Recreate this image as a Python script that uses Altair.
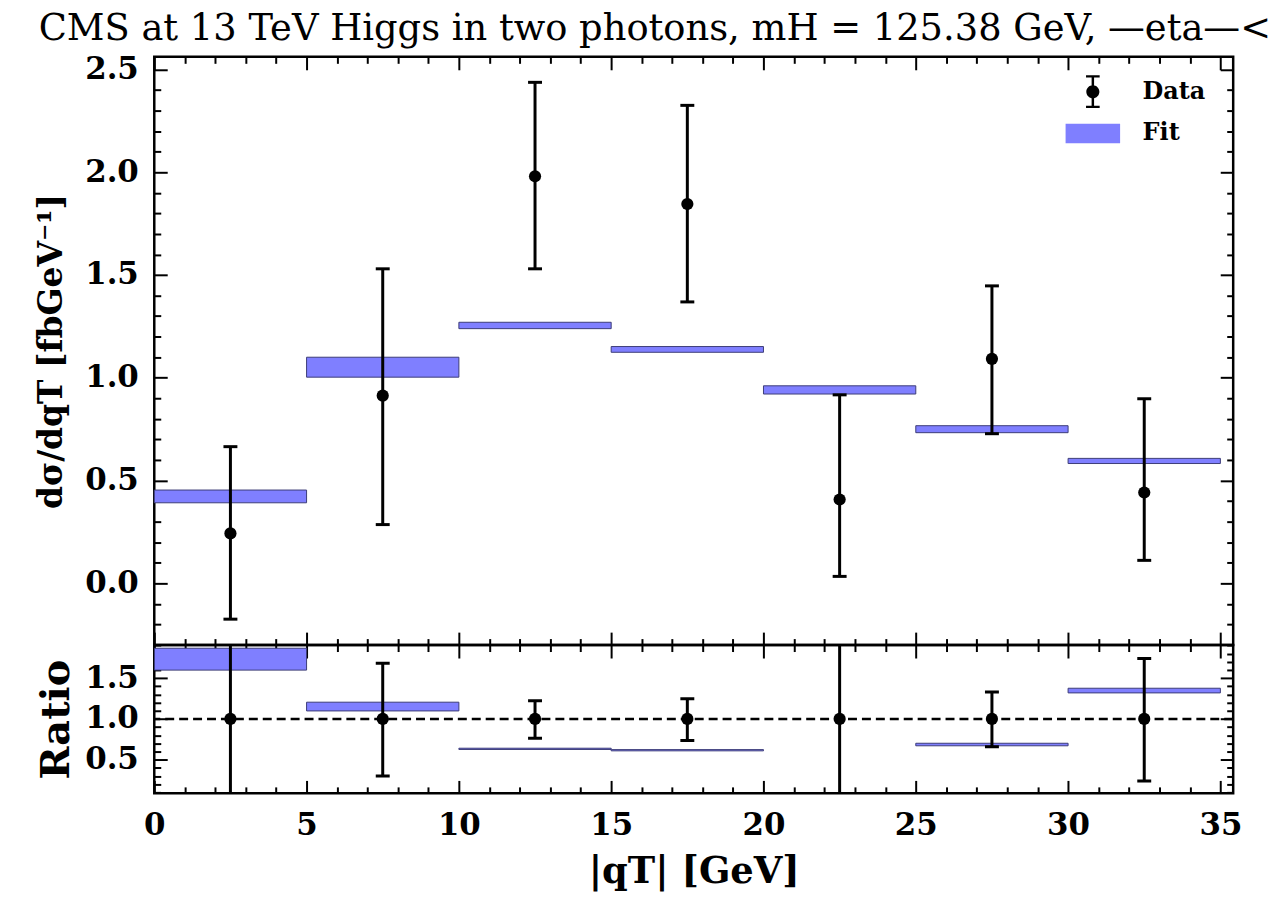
import altair as alt
import pandas as pd

# ---------------- data ----------------
bin_lo = [0, 5, 10, 15, 20, 25, 30]
bin_hi = [5, 10, 15, 20, 25, 30, 35]
qt_center = [2.5, 7.5, 12.5, 17.5, 22.5, 27.5, 32.5]

data_val = [0.243, 0.913, 1.980, 1.845, 0.408, 1.092, 0.442]
data_up = [0.665, 1.530, 2.437, 2.325, 0.917, 1.447, 0.898]
data_dn = [-0.174, 0.286, 1.530, 1.369, 0.034, 0.728, 0.112]

fit_dn = [0.392, 1.003, 1.239, 1.124, 0.921, 0.733, 0.583]
fit_up = [0.454, 1.100, 1.270, 1.152, 0.961, 0.767, 0.608]

ratio_val = [1.0, 1.0, 1.0, 1.0, 1.0, 1.0, 1.0]
ratio_up = [2.740, 1.683, 1.223, 1.248, 2.250, 1.329, 1.739]
ratio_dn = [-0.720, 0.300, 0.763, 0.735, 0.050, 0.659, 0.239]
ratio_fit_dn = [1.598, 1.098, 0.626, 0.609, 2.260, 0.671, 1.319]
ratio_fit_up = [1.866, 1.205, 0.641, 0.624, 2.360, 0.702, 1.376]

ratio_ref = [1.0]
legend_labels = ["Data", "Fit"]

x_major = [0, 5, 10, 15, 20, 25, 30, 35]
x_minor = [i for i in range(0, 36) if i % 5 != 0]
y_major_top = [0.0, 0.5, 1.0, 1.5, 2.0, 2.5]
y_minor_top = [round(-0.2 + 0.1 * i, 1) for i in range(28) if (i - 2) % 5 != 0]
y_major_rat = [0.5, 1.0, 1.5]
y_minor_rat = [round(0.1 + 0.1 * i, 1) for i in range(19) if (i + 1) % 5 != 0]

title_text = "CMS at 13 TeV Higgs in two photons, mH = 125.38 GeV, \u2014eta\u2014<"

# ---------------- styling ----------------
FONT = "DejaVu Serif"
FIT_FILL = "#7f7fff"
FIT_STROKE = "#3c3c78"
W = 1084
H_TOP = 591
H_RAT = 149
MAJ = 13
MIN = 6.5

x_scale = alt.Scale(domain=[0, 35.42], nice=False, zero=False)
y_scale_top = alt.Scale(domain=[-0.300, 2.561], nice=False, zero=False)
y_scale_rat = alt.Scale(domain=[0.088, 1.905], nice=False, zero=False)


def make_axis(orient, values, size, labels=False, fmt=None,
              title=None, title_size=32, title_pad=10, label_pad=10):
    """Inward-pointing ticks: the axis is pulled into the plot by its tick length."""
    kw = dict(
        orient=orient, values=values, tickSize=size, offset=-size, ticks=True,
        domain=False, grid=False, labels=labels, tickColor="black", tickWidth=2,
        labelFlush=False, labelOverlap=False,
    )
    if labels:
        kw.update(format=fmt, labelFont=FONT, labelFontSize=31,
                  labelFontWeight="bold", labelColor="black", labelPadding=label_pad)
    if title is not None:
        kw.update(title=title, titleFont=FONT, titleFontSize=title_size,
                  titleFontWeight="bold", titleColor="black", titlePadding=title_pad)
    else:
        kw.update(title=None)
    return alt.Axis(**kw)


top_df = pd.DataFrame({
    "lo": bin_lo, "hi": bin_hi, "c": qt_center,
    "v": data_val, "up": data_up, "dn": data_dn,
    "fdn": fit_dn, "fup": fit_up,
})
rat_df = pd.DataFrame({
    "lo": bin_lo, "hi": bin_hi, "c": qt_center,
    "v": ratio_val, "up": ratio_up, "dn": ratio_dn,
    "fdn": ratio_fit_dn, "fup": ratio_fit_up,
})
leg_df = pd.DataFrame({"series": legend_labels})
ref_df = pd.DataFrame({"r": ratio_ref})

# ---------------- top panel ----------------
top_base = alt.Chart(top_df)

top_fit = top_base.mark_rect(fill=FIT_FILL, stroke=FIT_STROKE, strokeWidth=1).encode(
    x=alt.X("lo:Q", scale=x_scale, axis=make_axis("bottom", x_major, MAJ)),
    x2="hi:Q",
    y=alt.Y("fdn:Q", scale=y_scale_top,
            axis=make_axis("left", y_major_top, MAJ, labels=True, fmt=".1f",
                           title="d\u03c3/dqT [fbGeV\u207b\u00b9]", title_size=33,
                           title_pad=16, label_pad=16)),
    y2="fup:Q",
)
top_bar = top_base.mark_rule(color="black", strokeWidth=3).encode(
    x=alt.X("c:Q", scale=x_scale, axis=make_axis("top", x_major, MAJ)),
    y=alt.Y("dn:Q", scale=y_scale_top, axis=make_axis("right", y_major_top, MAJ)),
    y2="up:Q",
)
top_cap_lo = top_base.mark_tick(orient="horizontal", size=14, thickness=3, color="black", opacity=1).encode(
    x=alt.X("c:Q", scale=x_scale, axis=make_axis("bottom", x_minor, MIN)),
    y=alt.Y("dn:Q", scale=y_scale_top, axis=make_axis("left", y_minor_top, MIN)),
)
top_cap_hi = top_base.mark_tick(orient="horizontal", size=14, thickness=3, color="black", opacity=1).encode(
    x=alt.X("c:Q", scale=x_scale, axis=make_axis("top", x_minor, MIN)),
    y=alt.Y("up:Q", scale=y_scale_top, axis=make_axis("right", y_minor_top, MIN)),
)
top_pts = top_base.mark_circle(size=150, color="black", opacity=1).encode(
    x=alt.X("c:Q", scale=x_scale, axis=None),
    y=alt.Y("v:Q", scale=y_scale_top, axis=None),
)

DATA_GLYPH = ("M-0.09,-1.2H0.09V1.2H-0.09Z "
              "M-0.5,-1.2H0.5V-1.04H-0.5Z "
              "M-0.5,1.04H0.5V1.2H-0.5Z "
              "M0.48,0A0.48,0.48 0 1 1 -0.48,0A0.48,0.48 0 1 1 0.48,0Z")
FIT_GLYPH = "M-2,-0.72H2V0.72H-2Z"

leg_common = dict(
    title=None, orient="none", legendX=929, legendY=21,
    labelFont=FONT, labelFontSize=24, labelFontWeight="bold", labelColor="black",
    labelOffset=36, rowPadding=11, symbolOpacity=1, symbolStrokeWidth=0,
    symbolSize=750,
)
top_leg = alt.Chart(leg_df).mark_point(filled=True, opacity=0, size=750).encode(
    color=alt.Color("series:N", scale=alt.Scale(domain=legend_labels, range=["black", FIT_FILL]),
                    legend=alt.Legend(**leg_common)),
    shape=alt.Shape("series:N", scale=alt.Scale(domain=legend_labels, range=[DATA_GLYPH, FIT_GLYPH]),
                    legend=alt.Legend(**leg_common)),
)

top = alt.layer(top_fit, top_bar, top_cap_lo, top_cap_hi, top_pts, top_leg).resolve_axis(
    x="independent", y="independent"
).properties(width=W, height=H_TOP)

# ---------------- ratio panel ----------------
rat_base = alt.Chart(rat_df)

rat_fit = rat_base.mark_rect(fill=FIT_FILL, stroke=FIT_STROKE, strokeWidth=1, clip=True).encode(
    x=alt.X("lo:Q", scale=x_scale,
            axis=make_axis("bottom", x_major, MAJ, labels=True, fmt="d",
                           title="|qT| [GeV]", title_size=37, title_pad=14, label_pad=17)),
    x2="hi:Q",
    y=alt.Y("fdn:Q", scale=y_scale_rat,
            axis=make_axis("left", y_major_rat, MAJ, labels=True, fmt=".1f",
                           title="Ratio", title_size=40, title_pad=8, label_pad=16)),
    y2="fup:Q",
)
rat_ref = alt.Chart(ref_df).mark_rule(color="black", strokeWidth=2.5, strokeDash=[9, 5]).encode(
    y=alt.Y("r:Q", scale=y_scale_rat, axis=None),
)
rat_bar = rat_base.mark_rule(color="black", strokeWidth=3, clip=True).encode(
    x=alt.X("c:Q", scale=x_scale, axis=make_axis("top", x_major, MAJ)),
    y=alt.Y("dn:Q", scale=y_scale_rat, axis=make_axis("right", y_major_rat, MAJ)),
    y2="up:Q",
)
rat_cap_lo = rat_base.mark_tick(orient="horizontal", size=14, thickness=3, color="black",
                                opacity=1, clip=True).encode(
    x=alt.X("c:Q", scale=x_scale, axis=make_axis("bottom", x_minor, MIN)),
    y=alt.Y("dn:Q", scale=y_scale_rat, axis=make_axis("left", y_minor_rat, MIN)),
)
rat_cap_hi = rat_base.mark_tick(orient="horizontal", size=14, thickness=3, color="black",
                                opacity=1, clip=True).encode(
    x=alt.X("c:Q", scale=x_scale, axis=make_axis("top", x_minor, MIN)),
    y=alt.Y("up:Q", scale=y_scale_rat, axis=make_axis("right", y_minor_rat, MIN)),
)
rat_pts = rat_base.mark_circle(size=150, color="black", opacity=1).encode(
    x=alt.X("c:Q", scale=x_scale, axis=None),
    y=alt.Y("v:Q", scale=y_scale_rat, axis=None),
)

ratio = alt.layer(rat_fit, rat_ref, rat_bar, rat_cap_lo, rat_cap_hi, rat_pts).resolve_axis(
    x="independent", y="independent"
).properties(width=W, height=H_RAT)

chart = alt.vconcat(top, ratio, spacing=0, bounds="flush").properties(
    title=alt.TitleParams(
        text=title_text, font=FONT, fontSize=37, fontWeight="normal", color="black",
        anchor="start", frame="bounds", offset=4, dx=4,
    ),
    padding={"left": 34, "top": 8, "right": 0, "bottom": 0},
    background="white",
).configure_view(stroke="black", strokeWidth=2.5)

chart.save("out.html", embed_options={"renderer": "svg", "actions": False})
